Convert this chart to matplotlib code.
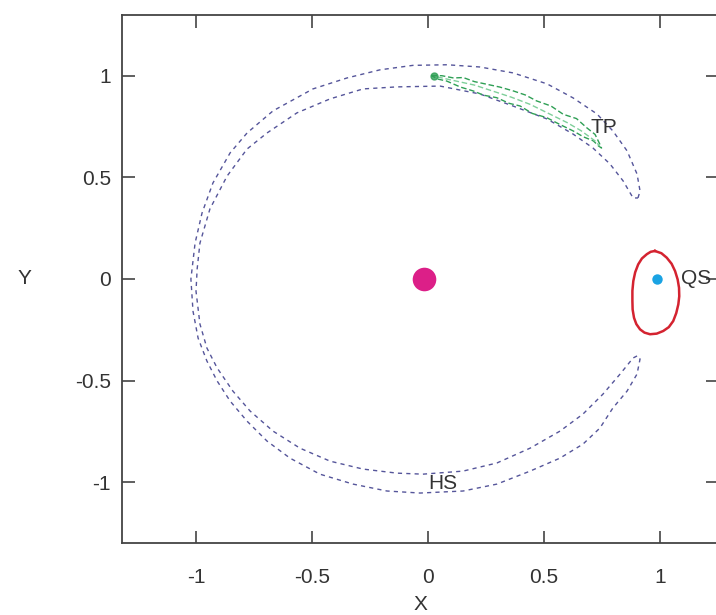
import matplotlib
matplotlib.use("Agg")
import matplotlib.pyplot as plt

plt.rcParams['font.family'] = ['Liberation Sans', 'DejaVu Sans']

# ---- data ----
tick_vals = [-1, -0.5, 0, 0.5, 1]
tick_labels = ['-1', '-0.5', '0', '0.5', '1']

# horseshoe (HS) boundary: outer arc from top tip round to bottom tip
hs_outer_x = [0.905, 0.914, 0.901, 0.858, 0.797, 0.728, 0.625, 0.513, 0.366, 0.224, 0.082,
              -0.065, -0.207, -0.349, -0.496, -0.668, -0.780, -0.853, -0.927, -0.974, -1.004,
              -1.022, -1.013, -0.991, -0.953, -0.909, -0.853, -0.780, -0.694, -0.595, -0.466,
              -0.323, -0.177, -0.034, 0.151, 0.297, 0.440, 0.569, 0.668, 0.741, 0.797, 0.858,
              0.901, 0.914, 0.901]
hs_outer_y = [0.399, 0.433, 0.517, 0.631, 0.729, 0.813, 0.892, 0.961, 1.015, 1.044, 1.055,
              1.052, 1.030, 0.990, 0.936, 0.828, 0.719, 0.621, 0.473, 0.325, 0.177,
              0.000, -0.158, -0.291, -0.404, -0.502, -0.601, -0.700, -0.798, -0.882, -0.961,
              -1.010, -1.044, -1.054, -1.044, -1.010, -0.946, -0.882, -0.813, -0.734, -0.635, -0.552,
              -0.468, -0.394, -0.379]
# inner arc from bottom tip back to top tip
hs_inner_x = [0.901, 0.884, 0.828, 0.754, 0.668, 0.569, 0.440, 0.297, 0.151, -0.022, -0.134,
              -0.280, -0.422, -0.552, -0.668, -0.767, -0.841, -0.909, -0.953, -0.983, -1.000,
              -0.995, -0.983, -0.940, -0.866, -0.780, -0.694, -0.565, -0.422, -0.280, -0.134,
              0.052, 0.224, 0.366, 0.513, 0.625, 0.711, 0.784, 0.841, 0.884, 0.905]
hs_inner_y = [-0.379, -0.389, -0.468, -0.567, -0.665, -0.749, -0.833, -0.906, -0.946, -0.961, -0.956,
              -0.936, -0.897, -0.833, -0.749, -0.650, -0.552, -0.438, -0.340, -0.222, -0.060,
              0.050, 0.177, 0.345, 0.507, 0.640, 0.719, 0.818, 0.887, 0.936, 0.946,
              0.950, 0.911, 0.852, 0.788, 0.714, 0.645, 0.567, 0.483, 0.399, 0.399]

# tadpole (TP) loop
tp_x = [0.015, 0.060, 0.110, 0.152, 0.200, 0.253, 0.310, 0.368, 0.420, 0.468, 0.530, 0.583,
        0.640, 0.684, 0.720, 0.741, 0.748, 0.735, 0.713, 0.670, 0.626, 0.570, 0.511, 0.450,
        0.397, 0.350, 0.296, 0.240, 0.195, 0.140, 0.080, 0.040, 0.015]
tp_y = [1.002, 1.001, 0.990, 0.992, 0.972, 0.959, 0.945, 0.926, 0.906, 0.877, 0.852, 0.811,
        0.790, 0.745, 0.712, 0.663, 0.645, 0.655, 0.680, 0.700, 0.729, 0.760, 0.795, 0.815,
        0.852, 0.865, 0.893, 0.905, 0.926, 0.945, 0.975, 0.985, 1.002]
tp2_x = [0.040, 0.120, 0.200, 0.280, 0.360, 0.440, 0.520, 0.600, 0.660, 0.720, 0.740]
tp2_y = [0.995, 0.975, 0.955, 0.925, 0.895, 0.860, 0.815, 0.770, 0.730, 0.680, 0.655]
tp_start = (0.025, 1.000)

# quasi-satellite (QS) loop
qs_x = [0.978, 1.006, 1.029, 1.050, 1.065, 1.076, 1.082, 1.083, 1.079, 1.070, 1.057, 1.038,
        1.014, 0.986, 0.957, 0.933, 0.914, 0.898, 0.888, 0.882, 0.881, 0.881, 0.885, 0.893,
        0.906, 0.922, 0.943, 0.960, 0.978]
qs_y = [0.138, 0.127, 0.105, 0.075, 0.039, -0.002, -0.043, -0.085, -0.125, -0.168, -0.207, -0.237,
        -0.256, -0.269, -0.272, -0.264, -0.248, -0.222, -0.191, -0.150, -0.108, -0.058, -0.010, 0.033,
        0.072, 0.101, 0.122, 0.134, 0.138]

sun_xy = (-0.017, 0.0)
earth_xy = (0.985, 0.0)

labels = ['TP', 'HS', 'QS']
label_x = [0.70, 0.00, 1.09]
label_y = [0.745, -1.005, 0.0]

# ---- figure ----
fig = plt.figure(figsize=(7.16, 6.15), dpi=100)
ax = fig.add_axes([122/716, 1-543/615, 596/716, 528/615])
ax.set_xlim(-1.319, 1.25)
ax.set_ylim(-1.3, 1.3)

hs_col = '#55559a'
ax.plot(hs_outer_x, hs_outer_y, color=hs_col, lw=1.0, dashes=(3, 3))
ax.plot(hs_inner_x, hs_inner_y, color=hs_col, lw=1.0, dashes=(3, 3))

tp_col = '#2f9f55'
ax.plot(tp_x, tp_y, color=tp_col, lw=1.0, dashes=(4, 2))
ax.plot(tp2_x, tp2_y, color='#7fcf9a', lw=1.0, dashes=(4, 2))
ax.plot([tp_start[0]], [tp_start[1]], 'o', color=tp_col, ms=5, alpha=0.8)

ax.plot(qs_x, qs_y, color='#d42330', lw=1.8, solid_joinstyle='round')
ax.plot([earth_xy[0]], [earth_xy[1]], 'o', color='#1aa3e3', ms=7.5, mec='none')
ax.plot([sun_xy[0]], [sun_xy[1]], 'o', color='#dc1f88', ms=17, mec='none')

txt_col = '#333333'
for t, x, y in zip(labels, label_x, label_y):
    ax.text(x, y, t, fontsize=15, color=txt_col, ha='left', va='center')

ax.set_xticks(tick_vals)
ax.set_xticklabels(tick_labels)
ax.set_yticks(tick_vals)
ax.set_yticklabels(tick_labels)
ax.tick_params(direction='in', length=9, width=1.2, colors='#444444',
               labelcolor=txt_col, labelsize=15, top=True, right=True)
ax.tick_params(axis='x', pad=18)
ax.tick_params(axis='y', pad=8)
for s in ax.spines.values():
    s.set_color('#444444')
    s.set_linewidth(1.3)

ax.set_xlabel('X', fontsize=15, color=txt_col, labelpad=6)
ax.set_ylabel('Y', fontsize=15, color=txt_col, rotation=0, labelpad=36, va='center')

fig.savefig('out.png', dpi=100)
